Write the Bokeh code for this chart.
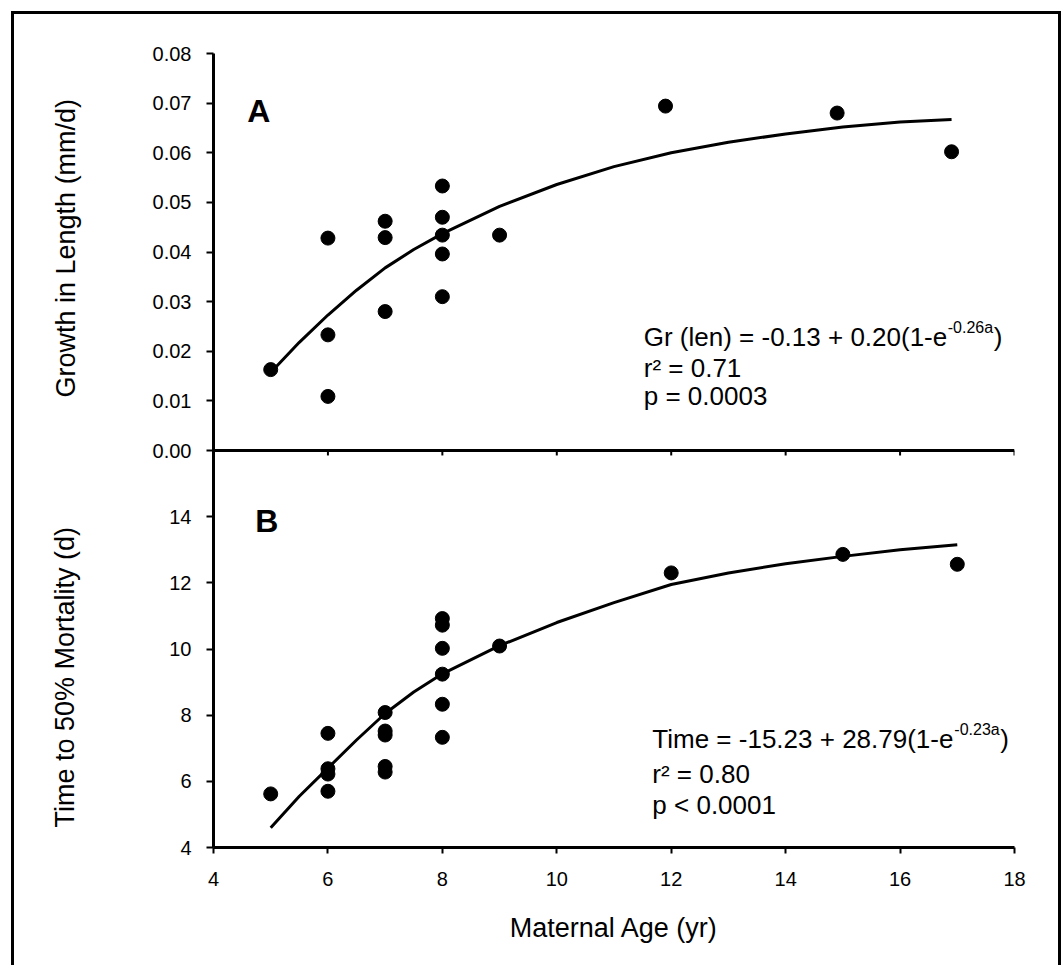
import math
from bokeh.plotting import figure
from bokeh.models import Range1d, FixedTicker, CustomJSTickFormatter, Label, Title, LinearAxis
from bokeh.embed import file_html
from bokeh.resources import INLINE

# ---------------- data ----------------
# Panel A: growth in length (mm/d) vs maternal age (yr)
age_a = [5, 6, 6, 6, 7, 7, 7, 8, 8, 8, 8, 8, 9, 11.9, 14.9, 16.9]
growth_a = [0.0163, 0.0428, 0.0233, 0.0109, 0.0462, 0.0429, 0.0280,
            0.0533, 0.0470, 0.0434, 0.0396, 0.0310, 0.0434, 0.0694, 0.0680, 0.0602]
fit_age_a = [5, 5.5, 6, 6.5, 7, 7.5, 8, 9, 10, 11, 12, 13, 14, 15, 16, 16.9]
fit_growth_a = [0.0157, 0.0218, 0.0273, 0.0323, 0.0368, 0.0405, 0.0437, 0.0492,
                0.0536, 0.0572, 0.0600, 0.0621, 0.0638, 0.0652, 0.0662, 0.0667]

# Panel B: time to 50% mortality vs maternal age (yr)
age_b = [5, 6, 6, 6, 6, 7, 7, 7, 7, 7, 8, 8, 8, 8, 8, 8, 9, 12, 15, 17]
time_b = [5.62, 7.45, 6.38, 6.22, 5.70, 8.08, 7.52, 7.40, 6.45, 6.28,
          10.92, 10.72, 10.02, 9.24, 8.33, 7.33, 10.09, 12.30, 12.86, 12.56]
fit_age_b = [5, 5.5, 6, 6.5, 7, 7.5, 8, 9, 10, 11, 12, 13, 14, 15, 16, 17]
fit_time_b = [4.6, 5.55, 6.4, 7.25, 8.05, 8.7, 9.25, 10.1, 10.8, 11.4,
              11.95, 12.3, 12.58, 12.8, 13.0, 13.15]

# ticks
x_ticks = [4, 6, 8, 10, 12, 14, 16, 18]
y_ticks_b = [4, 6, 8, 10, 12, 14]
y_ticks_a = [0.00, 0.01, 0.02, 0.03, 0.04, 0.05, 0.06, 0.07, 0.08]

# texts
x_title = "Maternal Age (yr)"
y_title_a = "Growth in Length (mm/d)"
y_title_b = "Time to 50% Mortality (d)"
eq_a = ["Gr (len) = -0.13 + 0.20(1-e", "-0.26a", ")"]
eq_b = ["Time = -15.23 + 28.79(1-e", "-0.23a", ")"]
stats_a = ["r\u00b2 = 0.71", "p = 0.0003"]
stats_b = ["r\u00b2 = 0.80", "p < 0.0001"]

FONT = "Liberation Sans"
INK = "black"

# ---------------- figure ----------------
B_LO, B_HI = 4, 16
A_LO, A_HI = 0.0, 0.08
p = figure(frame_width=801, frame_height=794,
           x_range=Range1d(4, 18),
           y_range=Range1d(B_LO, B_HI + (B_HI - B_LO)),
           output_backend="svg", toolbar_location=None,
           min_border_left=213, min_border_top=53,
           min_border_right=48, min_border_bottom=118)
p.extra_y_ranges = {"top": Range1d(A_LO - (A_HI - A_LO), A_HI)}

p.outline_line_color = None
p.border_fill_color = None
p.background_fill_color = None
p.grid.grid_line_color = None
p.styles = {"box-shadow": "inset 11px 11px 0 0 white, inset -1px 0 0 0 white, "
                          "inset 14px 14px 0 0 black, inset -4px 0 0 0 black"}

# x axis
xa = p.xaxis[0]
xa.ticker = FixedTicker(ticks=x_ticks)
xa.axis_line_width = 3
xa.axis_line_color = INK
xa.major_tick_line_width = 2
xa.major_tick_line_color = INK
xa.major_tick_out = 6
xa.major_tick_in = 0
xa.minor_tick_line_color = None
xa.major_label_text_font = FONT
xa.major_label_text_font_size = "20px"
xa.major_label_text_color = INK
xa.major_label_standoff = 18
xa.axis_label = x_title
xa.axis_label_text_font = FONT
xa.axis_label_text_font_size = "27px"
xa.axis_label_text_font_style = "normal"
xa.axis_label_text_color = INK
xa.axis_label_standoff = 24

# y axis (shared: bottom panel ticks + top panel ticks)
scale = (B_HI - B_LO) / (A_HI - A_LO)
ya = p.yaxis[0]
ya.ticker = FixedTicker(ticks=y_ticks_b + [B_HI + (v - A_LO) * scale for v in y_ticks_a])
ya.formatter = CustomJSTickFormatter(
    args=dict(hi=B_HI, lo=A_LO, scale=scale),
    code="""
        if (tick >= hi - 1e-6) { return (lo + (tick - hi) / scale).toFixed(2); }
        return tick.toFixed(0);
    """)
ya.axis_line_width = 3
ya.axis_line_color = INK
ya.major_tick_line_width = 2
ya.major_tick_line_color = INK
ya.major_tick_out = 7
ya.major_tick_in = 0
ya.minor_tick_line_color = None
ya.major_label_text_font = FONT
ya.major_label_text_font_size = "20px"
ya.major_label_text_color = INK
ya.major_label_standoff = 15

# invisible spacer between tick labels and the y titles
spacer = LinearAxis(ticker=FixedTicker(ticks=[B_LO]), axis_line_color=None,
                    major_tick_line_color="white", minor_tick_line_color=None,
                    major_tick_out=84, minor_tick_out=0, major_tick_in=0,
                    major_label_standoff=0, major_label_text_color=None)
p.add_layout(spacer, "left")

# y titles: one per panel (zero-width title panels sharing the same column)
p.add_layout(Title(text=y_title_a, align="left", offset=450, standoff=-31,
                   vertical_align="bottom", text_font=FONT, text_font_size="27px",
                   text_font_style="normal", text_color=INK), "left")
p.add_layout(Title(text=y_title_b, align="left", offset=20, standoff=-31,
                   vertical_align="bottom", text_font=FONT, text_font_size="27px",
                   text_font_style="normal", text_color=INK), "left")

# divider (top panel x axis at 0.00) with its ticks
p.line(x=[x_ticks[0], x_ticks[-1]], y=[A_LO, A_LO], y_range_name="top",
       line_color=INK, line_width=3)
p.segment(x0=x_ticks[1:], y0=[A_LO] * (len(x_ticks) - 1),
          x1=x_ticks[1:], y1=[A_LO - 0.001] * (len(x_ticks) - 1),
          y_range_name="top", line_color=INK, line_width=2)

# panel A
p.line(fit_age_a, fit_growth_a, y_range_name="top", line_color=INK, line_width=3)
p.scatter(age_a, growth_a, y_range_name="top", size=14, color=INK)

# panel B
p.line(fit_age_b, fit_time_b, line_color=INK, line_width=3)
p.scatter(age_b, time_b, size=14, color=INK)

# panel letters
p.add_layout(Label(x=4.59, y=0.0685, y_range_name="top", text="A",
                   text_font=FONT, text_font_size="32px", text_font_style="bold",
                   text_color=INK, text_baseline="alphabetic", text_align="left"))
p.add_layout(Label(x=4.73, y=13.86, text="B",
                   text_font=FONT, text_font_size="32px", text_font_style="bold",
                   text_color=INK, text_baseline="alphabetic", text_align="left"))

# equations (base text, superscript, closing bracket)
EQ_SIZE = 26
SUP_SIZE = 16


def equation(parts, x, y, base_w, yr=None):
    kw = dict(y_range_name=yr) if yr else {}
    p.add_layout(Label(x=x, y=y, text=parts[0], text_font=FONT, text_color=INK,
                       text_font_size=f"{EQ_SIZE}px", text_baseline="middle",
                       text_align="left", **kw))
    p.add_layout(Label(x=x, y=y, x_offset=base_w, y_offset=9, text=parts[1],
                       text_font=FONT, text_font_size=f"{SUP_SIZE}px", text_color=INK,
                       text_baseline="middle", text_align="left", **kw))
    p.add_layout(Label(x=x, y=y, x_offset=base_w + 46, text=parts[2],
                       text_font=FONT, text_font_size=f"{EQ_SIZE}px", text_color=INK,
                       text_baseline="middle", text_align="left", **kw))


equation(eq_a, 11.52, 0.0229, 304, "top")
equation(eq_b, 11.67, 7.29, 302)
for txt, yy in zip(stats_a, [0.0167, 0.0109]):
    p.add_layout(Label(x=11.52, y=yy, y_range_name="top", text=txt,
                       text_font=FONT, text_font_size=f"{EQ_SIZE}px", text_color=INK,
                       text_baseline="middle", text_align="left"))
for txt, yy in zip(stats_b, [6.23, 5.27]):
    p.add_layout(Label(x=11.67, y=yy, text=txt,
                       text_font=FONT, text_font_size=f"{EQ_SIZE}px", text_color=INK,
                       text_baseline="middle", text_align="left"))

open("out.html", "w").write(file_html(p, INLINE))
